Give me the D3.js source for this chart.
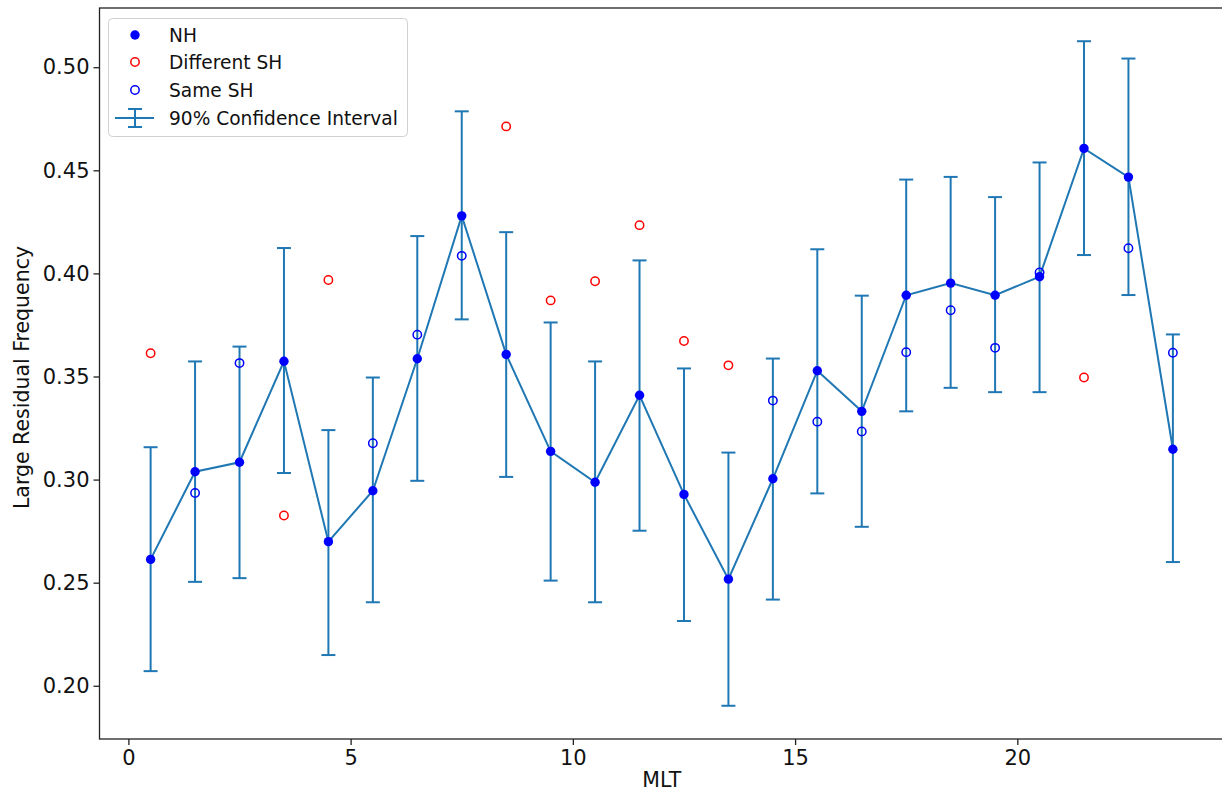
<!DOCTYPE html>
<html>
<head>
<meta charset="utf-8">
<script src="https://cdn.jsdelivr.net/npm/d3@7"></script>
<style>
  body { margin: 0; background: #fff; }
  svg { display: block; font-family: "DejaVu Sans", sans-serif; }
</style>
</head>
<body>
<script>
//data
var mlt = [0.5, 1.5, 2.5, 3.5, 4.5, 5.5, 6.5, 7.5, 8.5, 9.5, 10.5, 11.5, 12.5, 13.5, 14.5, 15.5, 16.5, 17.5, 18.5, 19.5, 20.5, 21.5, 22.5, 23.5];
var nh = [0.2613, 0.3038, 0.3084, 0.3574, 0.2699, 0.2946, 0.3586, 0.4279, 0.3607, 0.3137, 0.2987, 0.3409, 0.2928, 0.2517, 0.3004, 0.3528, 0.3331, 0.3894, 0.3953, 0.3894, 0.3984, 0.4606, 0.4467, 0.3147];
var ciLow = [0.2071, 0.2504, 0.2522, 0.3032, 0.2149, 0.2405, 0.2994, 0.3777, 0.3013, 0.2510, 0.2405, 0.2752, 0.2314, 0.1903, 0.2418, 0.2933, 0.2771, 0.3331, 0.3445, 0.3424, 0.3424, 0.4089, 0.3895, 0.2600];
var ciHigh = [0.3157, 0.3573, 0.3645, 0.4123, 0.3240, 0.3495, 0.4181, 0.4786, 0.4200, 0.3762, 0.3573, 0.4063, 0.3539, 0.3131, 0.3587, 0.4117, 0.3892, 0.4455, 0.4468, 0.4370, 0.4538, 0.5126, 0.5042, 0.3704];
var diffX = [0.5, 3.5, 4.5, 8.5, 9.5, 10.5, 11.5, 12.5, 13.5, 21.5];
var diffSH = [0.3613, 0.2826, 0.3968, 0.4713, 0.3869, 0.3962, 0.4234, 0.3672, 0.3554, 0.3495];
var sameX = [1.5, 2.5, 5.5, 6.5, 7.5, 14.5, 15.5, 16.5, 17.5, 18.5, 19.5, 20.5, 22.5, 23.5];
var sameSH = [0.2935, 0.3565, 0.3176, 0.3703, 0.4085, 0.3383, 0.3281, 0.3233, 0.3618, 0.3821, 0.3639, 0.4004, 0.4122, 0.3615];
var xTicks = [0, 5, 10, 15, 20];
var yTicks = [0.20, 0.25, 0.30, 0.35, 0.40, 0.45, 0.50];
var legendLabels = ["NH", "Different SH", "Same SH", "90% Confidence Interval"];

(function(){

  var width = 1222,
      height = 792;
  var left = 99.5, right = 1224, top = 8, bottom = 739; //axes frame (right edge falls just outside)
  var C0 = "#1f77b4";

  var svg = d3.select("body").append("svg")
    .attr("width", width)
    .attr("height", height);

  //matplotlib style 5% margins
  var yMin = d3.min(ciLow), yMax = d3.max(ciHigh);
  var yPad = (yMax - yMin) * 0.05;
  var xPad = (d3.max(mlt) - d3.min(mlt)) * 0.05;

  var x = d3.scaleLinear()
    .domain([d3.min(mlt) - xPad, d3.max(mlt) + xPad])
    .range([left, right]);
  var y = d3.scaleLinear()
    .domain([yMin - yPad, yMax + yPad])
    .range([bottom, top]);

  //axes
  var xAxis = svg.append("g")
    .attr("transform", "translate(0," + bottom + ")")
    .call(d3.axisBottom(x).tickValues(xTicks).tickFormat(d3.format("d")).tickSize(6).tickPadding(5));
  var yAxis = svg.append("g")
    .attr("transform", "translate(" + left + ",0)")
    .call(d3.axisLeft(y).tickValues(yTicks).tickFormat(d3.format(".2f")).tickSize(6).tickPadding(4));

  [xAxis, yAxis].forEach(function(a){
    a.select(".domain").remove();
    a.selectAll(".tick line").attr("stroke", "#222").attr("stroke-width", 1.3);
    a.selectAll(".tick text").attr("fill", "#111").style("font-size", "21px").style("font-family", "DejaVu Sans");
  });

  //frame
  svg.append("rect")
    .attr("x", left).attr("y", top)
    .attr("width", right - left).attr("height", bottom - top)
    .attr("fill", "none").attr("stroke", "#222").attr("stroke-width", 1.3);

  //axis labels
  svg.append("text")
    .attr("x", (left + right) / 2).attr("y", 787)
    .attr("text-anchor", "middle")
    .style("font-size", "20.5px").attr("fill", "#111")
    .text("MLT");
  svg.append("text")
    .attr("transform", "translate(29," + ((top + bottom) / 2 + 4) + ") rotate(-90)")
    .attr("text-anchor", "middle")
    .style("font-size", "20.5px").attr("fill", "#111")
    .text("Large Residual Frequency");

  var plot = svg.append("g");

  //error bars
  var eb = plot.selectAll(".eb")
    .data(mlt)
    .enter().append("g").attr("class", "eb");
  eb.append("line")
    .attr("x1", function(d){ return x(d); }).attr("x2", function(d){ return x(d); })
    .attr("y1", function(d, i){ return y(ciLow[i]); })
    .attr("y2", function(d, i){ return y(ciHigh[i]); })
    .attr("stroke", C0).attr("stroke-width", 2);
  [ciLow, ciHigh].forEach(function(arr){
    eb.append("line")
      .attr("x1", function(d){ return x(d) - 7; }).attr("x2", function(d){ return x(d) + 7; })
      .attr("y1", function(d, i){ return y(arr[i]); })
      .attr("y2", function(d, i){ return y(arr[i]); })
      .attr("stroke", C0).attr("stroke-width", 2);
  });

  //connecting line
  var line = d3.line()
    .x(function(d){ return x(d); })
    .y(function(d, i){ return y(nh[i]); });
  plot.append("path")
    .datum(mlt)
    .attr("d", line)
    .attr("fill", "none").attr("stroke", C0).attr("stroke-width", 2);

  //NH points
  plot.selectAll(".nh")
    .data(mlt)
    .enter().append("circle")
    .attr("class", "nh")
    .attr("cx", function(d){ return x(d); })
    .attr("cy", function(d, i){ return y(nh[i]); })
    .attr("r", 4.7)
    .attr("fill", "#0000ff");

  //different SH
  plot.selectAll(".diff")
    .data(diffX)
    .enter().append("circle")
    .attr("class", "diff")
    .attr("cx", function(d){ return x(d); })
    .attr("cy", function(d, i){ return y(diffSH[i]); })
    .attr("r", 4.2)
    .attr("fill", "none").attr("stroke", "#ff0000").attr("stroke-width", 1.5);

  //same SH
  plot.selectAll(".same")
    .data(sameX)
    .enter().append("circle")
    .attr("class", "same")
    .attr("cx", function(d){ return x(d); })
    .attr("cy", function(d, i){ return y(sameSH[i]); })
    .attr("r", 4.2)
    .attr("fill", "none").attr("stroke", "#0000ff").attr("stroke-width", 1.5);

  //legend
  var lg = svg.append("g");
  lg.append("rect")
    .attr("x", 108.5).attr("y", 18.5)
    .attr("width", 299).attr("height", 118)
    .attr("rx", 4)
    .attr("fill", "#fff").attr("fill-opacity", 0.8)
    .attr("stroke", "#d0d0d0").attr("stroke-width", 1);

  var rowY = [35, 62, 90, 118];
  legendLabels.forEach(function(lab, i){
    lg.append("text")
      .attr("x", 169).attr("y", rowY[i])
      .attr("dy", "0.35em")
      .style("font-size", "18.6px").attr("fill", "#111")
      .text(lab);
  });
  lg.append("circle").attr("cx", 135).attr("cy", rowY[0]).attr("r", 4.7).attr("fill", "#0000ff");
  lg.append("circle").attr("cx", 135).attr("cy", rowY[1]).attr("r", 4.2)
    .attr("fill", "none").attr("stroke", "#ff0000").attr("stroke-width", 1.5);
  lg.append("circle").attr("cx", 135).attr("cy", rowY[2]).attr("r", 4.2)
    .attr("fill", "none").attr("stroke", "#0000ff").attr("stroke-width", 1.5);
  //errorbar legend glyph
  var ly = rowY[3];
  lg.append("line").attr("x1", 115).attr("x2", 154).attr("y1", ly).attr("y2", ly)
    .attr("stroke", C0).attr("stroke-width", 2);
  lg.append("line").attr("x1", 135).attr("x2", 135).attr("y1", ly - 9).attr("y2", ly + 9)
    .attr("stroke", C0).attr("stroke-width", 2);
  [ly - 9, ly + 9].forEach(function(cy){
    lg.append("line").attr("x1", 128).attr("x2", 142).attr("y1", cy).attr("y2", cy)
      .attr("stroke", C0).attr("stroke-width", 2);
  });
})();
</script>
</body>
</html>
